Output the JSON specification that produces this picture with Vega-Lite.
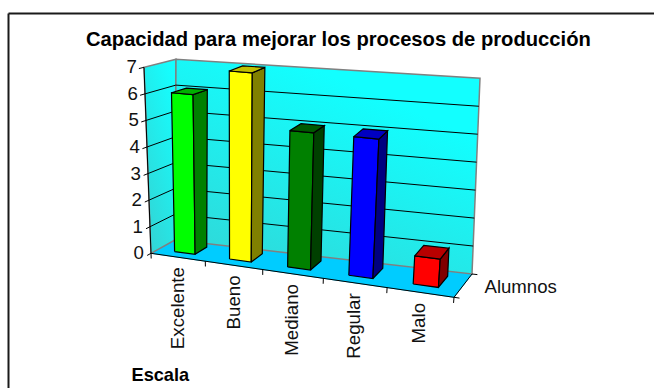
{
  "$schema": "https://vega.github.io/schema/vega-lite/v6.json",
  "width": 646,
  "height": 375,
  "padding": {"left": 8, "top": 13, "right": 0, "bottom": 0},
  "autosize": "none",
  "background": "white",
  "config": {"font": "Liberation Sans", "view": {"stroke": null}},
  "title": {"text": "Capacidad para mejorar los procesos de producción", "frame": "group", "anchor": "start", "dx": 78, "dy": 41, "fontSize": 20.2, "fontWeight": "bold", "color": "#000000"},
  "params": [
    {"name": "formas", "value": {
      "frontal": [[0,0,0],[1,0,0],[1,0,1],[0,0,1],[0,0,0]],
      "lateral": [[1,0,0],[1,1,0],[1,1,1],[1,0,1],[1,0,0]],
      "superior": [[0,0,1],[1,0,1],[1,1,1],[0,1,1],[0,0,1]],
      "rotulo": [[0,0,0]],
      "rejilla": [[0,0,1],[0,1,1],[1,1,1]],
      "muesca": [[0,-0.16,1],[0,0,1]],
      "cifra": [[0,0,1]],
      "marca": [[0,0,0],[0,0,-0.028]],
      "suelo": [[0,0,0],[1,0,0],[1,1,0],[0,1,0],[0,0,0]],
      "pared": [[0,0,0],[0,1,0],[0,1,1],[0,0,1],[0,0,0]],
      "fondo": [[0,1,0],[1,1,0],[1,1,1],[0,1,1],[0,1,0]],
      "filo": [[0,0,1],[0,0,0],[1,0,0],[1,1,0],[1.016,1,0]],
      "remate": [[1,0,0],[1.016,0,0]]
    }},
    {"name": "trazos", "value": {
      "barra": ["rotulo","frontal","lateral","superior"],
      "nivel": ["rejilla","muesca","cifra"],
      "marca": ["marca"],
      "plano": ["suelo","pared","fondo"],
      "eje": ["filo","remate"]
    }}
  ],
  "data": {"values": [
    {"capa": "plano"},
    {"capa": "eje"},
    {"capa": "nivel", "valor": 0},
    {"capa": "nivel", "valor": 1},
    {"capa": "nivel", "valor": 2},
    {"capa": "nivel", "valor": 3},
    {"capa": "nivel", "valor": 4},
    {"capa": "nivel", "valor": 5},
    {"capa": "nivel", "valor": 6},
    {"capa": "nivel", "valor": 7},
    {"capa": "marca", "orden": 0},
    {"capa": "marca", "orden": 1},
    {"capa": "marca", "orden": 2},
    {"capa": "marca", "orden": 3},
    {"capa": "marca", "orden": 4},
    {"capa": "marca", "orden": 5},
    {"capa": "barra", "orden": 0, "escala": "Excelente", "alumnos": 6},
    {"capa": "barra", "orden": 1, "escala": "Bueno", "alumnos": 7},
    {"capa": "barra", "orden": 2, "escala": "Mediano", "alumnos": 5},
    {"capa": "barra", "orden": 3, "escala": "Regular", "alumnos": 5},
    {"capa": "barra", "orden": 4, "escala": "Malo", "alumnos": 1}
  ]},
  "transform": [
    {"calculate": "trazos[datum.capa]", "as": "forma"},
    {"flatten": ["forma"]},
    {"calculate": "[0,1,2,3,4]", "as": "esquina"},
    {"flatten": ["esquina"]},
    {"filter": "datum.esquina < length(formas[datum.forma])"},
    {"calculate": "formas[datum.forma][datum.esquina]", "as": "v"},
    {"calculate": "datum.capa=='barra' ? (datum.forma=='rotulo' ? (datum.orden+0.5)/5 : (datum.orden+0.31+0.38*datum.v[0])/5) : datum.capa=='marca' ? datum.orden/5 : datum.v[0]", "as": "U"},
    {"calculate": "datum.capa=='barra' ? (datum.forma=='rotulo' ? 0 : 0.3+0.5*datum.v[1]) : datum.v[1]", "as": "D"},
    {"calculate": "datum.forma=='rotulo' ? -0.37 : (datum.capa=='barra' ? datum.alumnos : datum.capa=='nivel' ? datum.valor : 7)*datum.v[2]", "as": "V"},
    {"calculate": "datum.U*(0.87+0.13*datum.U)", "as": "t"},
    {"calculate": "(1-datum.t)*((1-datum.D)*151+datum.D*175)+datum.t*((1-datum.D)*454+datum.D*472)", "as": "x0"},
    {"calculate": "(1-datum.t)*((1-datum.D)*253.3+datum.D*240)+datum.t*((1-datum.D)*297.3+datum.D*274)", "as": "y0"},
    {"calculate": "(1-datum.t)*((1-datum.D)*144+datum.D*176)+datum.t*((1-datum.D)*470+datum.D*480)", "as": "x7"},
    {"calculate": "(1-datum.t)*((1-datum.D)*67.3+datum.D*59.3)+datum.t*((1-datum.D)*96+datum.D*78.3)", "as": "y7"},
    {"calculate": "datum.x0+datum.V/7*(datum.x7-datum.x0)", "as": "px"},
    {"calculate": "datum.y0+datum.V/7*(datum.y7-datum.y0)", "as": "py"},
    {"calculate": "datum.capa+'-'+datum.forma+'-'+datum.orden+'-'+datum.valor", "as": "trazo"},
    {"calculate": "datum.escala+'-'+datum.forma", "as": "cara"}
  ],
  "encoding": {
    "x": {"field": "px", "type": "quantitative", "scale": {"domain": [8, 654], "nice": false, "zero": false},
      "axis": {"orient": "top", "title": "Escala", "labels": false, "ticks": false, "grid": false, "domain": true, "domainColor": "#1a1a1a", "domainWidth": 2,
        "titleX": 123, "titleY": 362, "titleAlign": "left", "titleBaseline": "middle", "titleFontSize": 18.2, "titleFontWeight": "bold", "titleColor": "#000000", "titleAngle": 0}},
    "y": {"field": "py", "type": "quantitative", "scale": {"domain": [388, 13], "nice": false, "zero": false},
      "axis": {"orient": "left", "title": "Alumnos", "labels": false, "ticks": false, "grid": false, "domain": true, "domainColor": "#1a1a1a", "domainWidth": 2,
        "titleX": 476, "titleY": 273, "titleAngle": 0, "titleAlign": "left", "titleBaseline": "middle", "titleFontSize": 18.6, "titleFontWeight": "normal", "titleColor": "#111111"}}
  },
  "layer": [
    {
      "transform": [{"filter": "datum.forma=='suelo'"}],
      "mark": {"type": "line", "fill": "#00ccff", "stroke": "#00ccff", "strokeWidth": 1},
      "encoding": {"order": {"field": "esquina"}}
    },
    {
      "transform": [{"filter": "datum.forma=='pared'"}],
      "mark": {"type": "line", "stroke": "#808080", "strokeWidth": 1.5,
        "fill": {"gradient": "linear", "x1": 0.2, "y1": 1, "x2": 0.8, "y2": 0, "stops": [{"offset": 0, "color": "#33d4d4"}, {"offset": 1, "color": "#14ffff"}]}},
      "encoding": {"order": {"field": "esquina"}}
    },
    {
      "transform": [{"filter": "datum.forma=='fondo'"}],
      "mark": {"type": "line", "stroke": "#808080", "strokeWidth": 1.5,
        "fill": {"gradient": "linear", "x1": 0, "y1": 1, "x2": 0.55, "y2": 0.1, "stops": [{"offset": 0, "color": "#33d4d4"}, {"offset": 1, "color": "#12ffff"}]}},
      "encoding": {"order": {"field": "esquina"}}
    },
    {
      "transform": [{"filter": "datum.forma=='rejilla' && datum.valor>0 && datum.valor<7"}],
      "mark": {"type": "line", "stroke": "#000000", "strokeWidth": 1},
      "encoding": {"order": {"field": "esquina"}, "detail": {"field": "trazo"}}
    },
    {
      "transform": [{"filter": "datum.forma=='muesca' || datum.forma=='marca' || datum.forma=='filo' || datum.forma=='remate'"}],
      "mark": {"type": "line", "stroke": "#000000", "strokeWidth": 1},
      "encoding": {"order": {"field": "esquina"}, "detail": {"field": "trazo"}}
    },
    {
      "transform": [{"filter": "datum.forma=='frontal' || datum.forma=='lateral' || datum.forma=='superior'"}],
      "mark": {"type": "line", "stroke": "#000000", "strokeWidth": 1.2, "strokeJoin": "miter"},
      "encoding": {
        "order": {"field": "esquina"},
        "detail": {"field": "trazo"},
        "fill": {"field": "cara", "type": "nominal", "legend": null, "scale": {
          "domain": ["Excelente-frontal","Excelente-lateral","Excelente-superior","Bueno-frontal","Bueno-lateral","Bueno-superior","Mediano-frontal","Mediano-lateral","Mediano-superior","Regular-frontal","Regular-lateral","Regular-superior","Malo-frontal","Malo-lateral","Malo-superior"],
          "range": ["#00ff00","#008000","#00b000","#ffff00","#808000","#c0c000","#008000","#004000","#005a00","#0000ff","#000080","#0000c0","#ff0000","#800000","#b80000"]}}
      }
    },
    {
      "transform": [{"filter": "datum.forma=='cifra'"}],
      "mark": {"type": "text", "align": "right", "baseline": "middle", "dx": -7, "fontSize": 18.7, "color": "#111111"},
      "encoding": {"text": {"field": "valor", "type": "quantitative"}}
    },
    {
      "transform": [{"filter": "datum.forma=='rotulo'"}],
      "mark": {"type": "text", "align": "right", "baseline": "middle", "angle": 270, "dy": 0, "fontSize": 18.7, "color": "#111111"},
      "encoding": {"text": {"field": "escala", "type": "nominal"}}
    }
  ]
}
